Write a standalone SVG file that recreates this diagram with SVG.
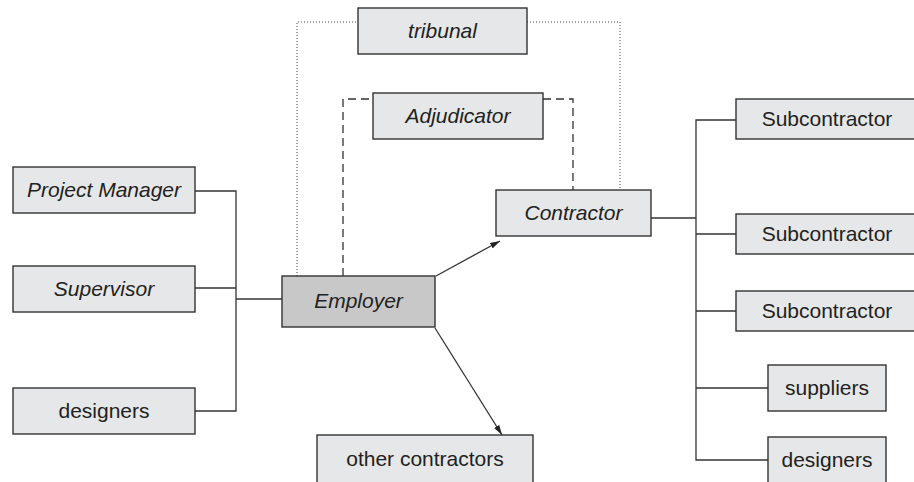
<svg xmlns="http://www.w3.org/2000/svg" width="914" height="482" viewBox="0 0 914 482">
  <style>
    .box { fill: #e6e7e8; stroke: #333; stroke-width: 1.4; }
    .main { fill: #c8c8c9; stroke: #333; stroke-width: 1.4; }
    .lbl { font-family: "Liberation Sans", Arial, sans-serif; font-size: 21px; fill: #222; text-anchor: middle; }
    .it { font-style: italic; }
    .wire { fill: none; stroke: #333; stroke-width: 1.3; }
    .dot { fill: none; stroke: #444; stroke-width: 1; stroke-dasharray: 1 2; }
    .dash { fill: none; stroke: #333; stroke-width: 1.3; stroke-dasharray: 8 5; }
  </style>
  <defs>
    <marker id="arrow" viewBox="0 0 10 6" refX="10" refY="3" markerWidth="10" markerHeight="6" markerUnits="userSpaceOnUse" orient="auto">
      <path d="M0,0 L10,3 L0,6 Z" fill="#222"/>
    </marker>
  </defs>
  <rect width="914" height="482" fill="#fff"/>

  <g id="connectors">
    <!-- dispute routes -->
    <path class="dot" d="M297,276 V22 H358 M527,22 H620 V190"/>
    <path class="dash" d="M343,276 V99 H373 M543,99 H573 V190"/>
    <!-- employer's side -->
    <path class="wire" d="M195,191 H236 V411 H195 M195,288 H236 M236,299 H282"/>
    <!-- contractor's side -->
    <path class="wire" d="M651,218 H696 M736,120 H696 V460 H768 M696,234 H736 M696,311 H736 M696,388 H768"/>
    <!-- contracts -->
    <line class="wire" x1="436" y1="276" x2="500" y2="241" marker-end="url(#arrow)"/>
    <line class="wire" x1="435" y1="328" x2="502" y2="435" marker-end="url(#arrow)"/>
  </g>

  <g id="tribunal">
    <rect class="box" x="358" y="8" width="169" height="46"/>
    <text class="lbl it" x="442.5" y="38">tribunal</text>
  </g>
  <g id="adjudicator">
    <rect class="box" x="373" y="93" width="170" height="46"/>
    <text class="lbl it" x="458" y="123">Adjudicator</text>
  </g>
  <g id="project-manager">
    <rect class="box" x="13" y="167" width="182" height="46"/>
    <text class="lbl it" x="104" y="197">Project Manager</text>
  </g>
  <g id="supervisor">
    <rect class="box" x="13" y="266" width="182" height="46"/>
    <text class="lbl it" x="104" y="296">Supervisor</text>
  </g>
  <g id="designers-employer">
    <rect class="box" x="13" y="388" width="182" height="46"/>
    <text class="lbl" x="104" y="418">designers</text>
  </g>
  <g id="employer">
    <rect class="main" x="282" y="276" width="153" height="51"/>
    <text class="lbl it" x="358.5" y="308">Employer</text>
  </g>
  <g id="contractor">
    <rect class="box" x="496" y="190" width="155" height="46"/>
    <text class="lbl it" x="573.5" y="220">Contractor</text>
  </g>
  <g id="other-contractors">
    <rect class="box" x="317" y="435" width="216" height="60"/>
    <text class="lbl" x="425" y="466">other contractors</text>
  </g>
  <g id="subcontractor-1">
    <rect class="box" x="736" y="99" width="182" height="40"/>
    <text class="lbl" x="827" y="126">Subcontractor</text>
  </g>
  <g id="subcontractor-2">
    <rect class="box" x="736" y="214" width="182" height="40"/>
    <text class="lbl" x="827" y="241">Subcontractor</text>
  </g>
  <g id="subcontractor-3">
    <rect class="box" x="736" y="291" width="182" height="40"/>
    <text class="lbl" x="827" y="318">Subcontractor</text>
  </g>
  <g id="suppliers">
    <rect class="box" x="768" y="365" width="118" height="46"/>
    <text class="lbl" x="827" y="395">suppliers</text>
  </g>
  <g id="designers-contractor">
    <rect class="box" x="768" y="437" width="118" height="60"/>
    <text class="lbl" x="827" y="467">designers</text>
  </g>
</svg>
